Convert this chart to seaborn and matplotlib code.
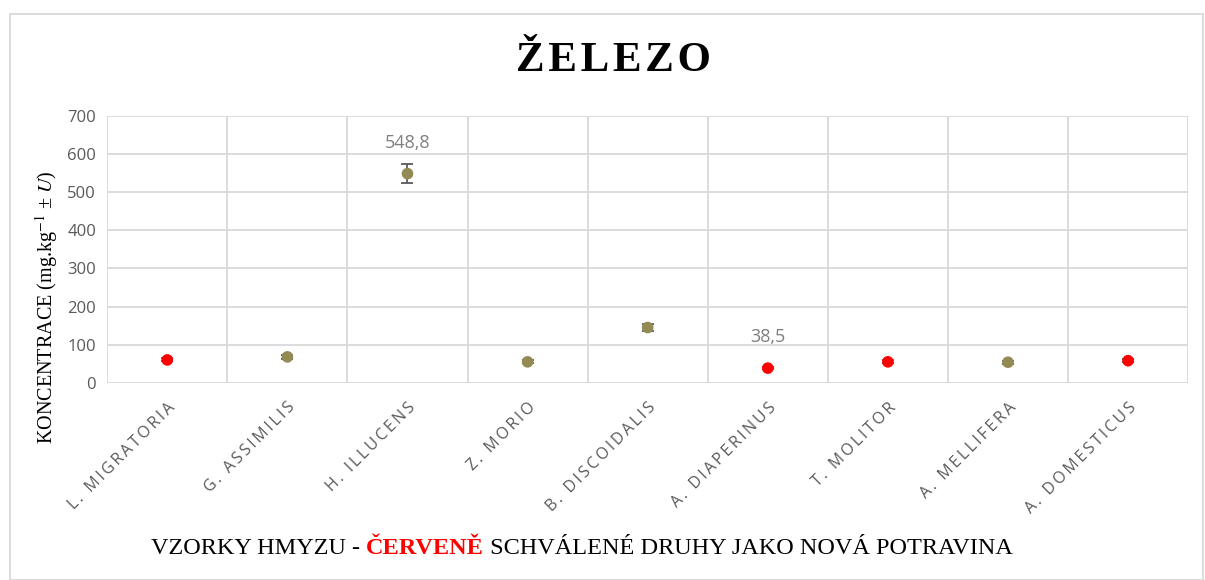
#!/usr/bin/env python3

import numpy as np
import pandas as pd
import matplotlib.pyplot as plt
import seaborn as sns
from matplotlib.patches import Rectangle
from matplotlib.ticker import MultipleLocator, FixedLocator

species = ['L. MIGRATORIA', 'G. ASSIMILIS', 'H. ILLUCENS', 'Z. MORIO', 'B. DISCOIDALIS',
           'A. DIAPERINUS', 'T. MOLITOR', 'A. MELLIFERA', 'A. DOMESTICUS']
iron = [60.0, 68.0, 548.8, 55.0, 145.0, 38.5, 55.0, 54.0, 58.0]
uncert = [4.0, 5.0, 25.0, 4.0, 8.0, 3.0, 4.0, 4.0, 4.0]
approved = [True, False, False, False, False, True, True, False, True]
labelled = {'H. ILLUCENS': '548,8', 'A. DIAPERINUS': '38,5'}

df = pd.DataFrame({'species': species, 'iron': iron, 'u': uncert,
                   'group': ['approved' if a else 'other' for a in approved]})

sns.set_style('white')
plt.rcParams['font.family'] = ['Open Sans', 'DejaVu Sans']
plt.rcParams['mathtext.fontset'] = 'stix'
plt.rcParams['text.color'] = 'black'

serif = ['Liberation Serif', 'DejaVu Serif']

fig = plt.figure(figsize=(12.05, 5.8), dpi=100)
ax = fig.add_axes([0.089, 0.340, 0.897, 0.460])

olive = '#948A54'
red = '#FF0000'

ax.errorbar(df['species'], df['iron'], yerr=df['u'], fmt='none',
            ecolor='#595959', elinewidth=1.3, capsize=4.5, capthick=1.3, zorder=3)
sns.scatterplot(data=df, x='species', y='iron', hue='group',
                palette={'approved': red, 'other': olive},
                s=70, linewidth=0, legend=False, ax=ax, zorder=4)

for name, txt in labelled.items():
    i = species.index(name)
    ax.annotate(txt, xy=(i, iron[i]), xytext=(0, 31), textcoords='offset pixels',
                ha='center', va='center', fontsize=13, color='#7F7F7F')

ax.set_xlim(-0.5, len(species) - 0.5)
ax.set_ylim(0, 700)
ax.yaxis.set_major_locator(MultipleLocator(100))
ax.xaxis.set_minor_locator(FixedLocator(np.arange(-0.5, len(species), 1.0)))
ax.grid(True, axis='y', which='major', color='#D9D9D9', linewidth=1.3)
ax.grid(True, axis='x', which='minor', color='#D9D9D9', linewidth=1.3)
ax.grid(False, axis='x', which='major')
ax.set_axisbelow(True)
for s in ax.spines.values():
    s.set_visible(False)

ax.set_xticks(range(len(species)))
ax.set_xticklabels(['\u2009'.join(list(s)) for s in species], rotation=45,
                   ha='right', rotation_mode='anchor', fontsize=11.5, color='#595959')
ax.tick_params(axis='x', which='both', length=0, pad=12)
ax.tick_params(axis='y', length=0, labelsize=12, labelcolor='#595959', pad=8)
ax.set_xlabel('')
ax.set_ylabel('')

fig.text(0.509, 0.895, '\u200a'.join('ŽELEZO'), ha='center', va='center', fontsize=31,
         fontweight='bold', family=serif)
fig.text(0.039, 0.47, 'KONCENTRACE (mg.kg$^{-1}$ ± $\\mathit{U}$)', rotation=90,
         ha='center', va='center', fontsize=14.5, family=serif)

t1 = fig.text(0.125, 0.055, 'VZORKY HMYZU - ', ha='left', va='center',
              fontsize=17.5, family=serif)
t2 = ax.annotate('ČERVENĚ', xycoords=t1, xy=(1, 0), va='bottom',
                 fontsize=17.5, family=serif, color=red,
                 fontweight='bold', annotation_clip=False)
ax.annotate(' SCHVÁLENÉ DRUHY JAKO NOVÁ POTRAVINA', xycoords=t2, xy=(1, 0),
            va='bottom', fontsize=17.5, family=serif,
            annotation_clip=False)

fig.patches.append(Rectangle((10 / 1205, 0), 1193 / 1205, 1 - 14 / 580,
                             transform=fig.transFigure, fill=False,
                             edgecolor='#D9D9D9', linewidth=1.3))

plt.savefig('out.png', dpi=100)
plt.close()
